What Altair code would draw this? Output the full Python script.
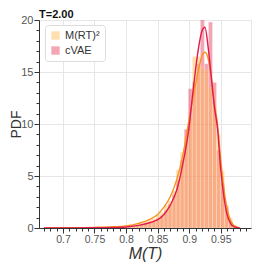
import altair as alt
import pandas as pd

# ---- data ----
series_names = ["M(RT)²", "cVAE"]
bin_width = 0.0064
bin_starts = [0.7577, 0.7641, 0.7705, 0.7769, 0.7833, 0.7897, 0.7961, 0.8025, 0.8089,
              0.8153, 0.8217, 0.8281, 0.8345, 0.8409, 0.8473, 0.8537, 0.8601, 0.8665,
              0.8729, 0.8793, 0.8857, 0.8921, 0.8985, 0.9049, 0.9113, 0.9177, 0.9241,
              0.9305, 0.9369, 0.9433, 0.9497, 0.9561, 0.9625, 0.9689, 0.9753]
hist_mrt = [0.05, 0.05, 0.07, 0.08, 0.10, 0.12, 0.15, 0.25, 0.30,
            0.35, 0.45, 0.60, 0.80, 0.90, 1.30, 1.50, 2.20, 2.60,
            3.60, 5.60, 7.30, 8.90, 10.7, 16.5, 16.5, 15.5, 15.2,
            13.5, 11.8, 9.00, 5.50, 2.20, 1.00, 0.30, 0.10]
hist_cvae = [0.0, 0.0, 0.0, 0.0, 0.02, 0.03, 0.05, 0.10, 0.15,
             0.20, 0.30, 0.40, 0.50, 0.70, 0.90, 1.20, 1.70, 2.30,
             3.20, 4.60, 6.50, 9.50, 13.4, 14.0, 15.8, 20.3, 15.8,
             19.8, 14.0, 7.50, 4.30, 2.00, 0.60, 0.15, 0.0]

kde_x = [0.67, 0.70, 0.75, 0.78, 0.80, 0.82, 0.84, 0.85, 0.86, 0.87, 0.88, 0.89,
         0.90, 0.905, 0.91, 0.915, 0.92, 0.925, 0.93, 0.935, 0.94, 0.945, 0.95,
         0.955, 0.96, 0.965, 0.97, 0.975, 0.98]
kde_mrt = [0.0, 0.02, 0.06, 0.12, 0.20, 0.45, 0.90, 1.30, 2.00, 3.00, 4.60, 7.00,
           10.5, 12.2, 13.8, 15.3, 16.5, 16.9, 16.3, 14.5, 12.0, 9.9, 6.5,
           3.8, 1.9, 0.8, 0.3, 0.1, 0.02]
kde_cvae = [0.0, 0.01, 0.02, 0.05, 0.10, 0.25, 0.55, 0.80, 1.30, 2.20, 3.60, 6.20,
            9.8, 12.6, 15.2, 17.4, 18.9, 19.3, 17.4, 14.5, 11.6, 9.5, 5.6,
            3.0, 1.3, 0.5, 0.15, 0.05, 0.0]

x_ticks = [round(0.67 + 0.01 * i, 2) for i in range(33)]
y_ticks = list(range(0, 21))

# ---- tables ----
rows = []
for name, vals in zip(series_names, [hist_mrt, hist_cvae]):
    for s, v in zip(bin_starts, vals):
        rows.append({"series": name, "start": s, "end": s + bin_width, "density": v})
hist_df = pd.DataFrame(rows)

krows = []
for name, vals in zip(series_names, [kde_mrt, kde_cvae]):
    for x, v in zip(kde_x, vals):
        krows.append({"series": name, "m": x, "pdf": v})
kde_df = pd.DataFrame(krows)

FONT = "Liberation Sans"
major_x = "abs(datum.value*20 - round(datum.value*20)) < 0.001"
major_y = "abs(datum.value/5 - round(datum.value/5)) < 0.001"

x_scale = alt.Scale(domain=[0.67, 0.99], nice=False, zero=False)
y_scale = alt.Scale(domain=[0, 20], nice=False)


def make_x_axis():
    return alt.Axis(
        title="M(T)", values=x_ticks,
        labelExpr=f"{major_x} ? format(datum.value, '~g') : ''",
        tickSize={"condition": {"test": major_x, "value": 5}, "value": 3},
        gridOpacity={"condition": {"test": major_x, "value": 1}, "value": 0},
        gridColor="#e6e6e6", domainColor="#333333", tickColor="#333333",
        labelColor="#555555", labelFontSize=10.5, labelFont=FONT, labelPadding=1,
        titleFont=FONT, titleFontSize=16, titleFontStyle="italic", titleFontWeight="normal",
        titleColor="#333333", titleBaseline="alphabetic", titleY=30,
        labelOverlap=False, labelFlush=False,
    )


def make_y_axis():
    return alt.Axis(
        title="PDF", values=y_ticks,
        labelExpr=f"{major_y} ? format(datum.value, 'd') : ''",
        tickSize={"condition": {"test": major_y, "value": 5}, "value": 3},
        gridOpacity={"condition": {"test": major_y, "value": 1}, "value": 0},
        gridColor="#e6e6e6", domainColor="#333333", tickColor="#333333",
        labelColor="#555555", labelFontSize=11, labelFont=FONT, labelPadding=1,
        titleFont=FONT, titleFontSize=14, titleFontWeight="normal",
        titleColor="#333333", titleX=-16, titleBaseline="bottom",
        labelOverlap=False, labelFlush=False,
    )


bars = alt.Chart(hist_df).mark_bar(
    orient="vertical", opacity=0.45, stroke="white", strokeWidth=0.5,
    strokeOpacity=0.6, clip=True
).encode(
    x=alt.X("start:Q", scale=x_scale, axis=make_x_axis()),
    x2="end:Q",
    y=alt.Y("density:Q", scale=y_scale, axis=make_y_axis(), stack=None),
    y2=alt.datum(0),
    color=alt.Color(
        "series:N",
        scale=alt.Scale(domain=series_names, range=["#ffb84d", "#e8395a"]),
        legend=alt.Legend(
            title=None, orient="none", legendX=6, legendY=5,
            symbolType="square", symbolSize=70, symbolOpacity=0.45,
            symbolStrokeWidth=0, labelFont=FONT, labelFontSize=11,
            labelColor="#333333", rowPadding=3, padding=5,
            strokeColor="#dddddd", fillColor="white", cornerRadius=3,
        ),
    ),
    order=alt.Order("series:N", sort="descending"),
)

lines = alt.Chart(kde_df).mark_line(strokeWidth=1.4, interpolate="monotone", clip=True).encode(
    x=alt.X("m:Q", scale=x_scale, axis=make_x_axis()),
    y=alt.Y("pdf:Q", scale=y_scale, axis=make_y_axis()),
    color=alt.Color("series:N",
                    scale=alt.Scale(domain=series_names, range=["#f7941d", "#e31a4b"]),
                    legend=None),
)

chart = alt.layer(bars, lines).resolve_scale(color="independent").properties(
    width=212, height=208,
    autosize=alt.AutoSizeParams(type="none"),
    padding={"left": 31, "top": 12, "right": 7, "bottom": 38},
    title=alt.TitleParams("T=2.00", anchor="start", frame="group", fontSize=11,
                          fontWeight="bold", font=FONT, color="#111111", offset=-6),
).configure_view(stroke="#e6e6e6")

chart.save("out.html", embed_options={"renderer": "svg", "actions": False})
